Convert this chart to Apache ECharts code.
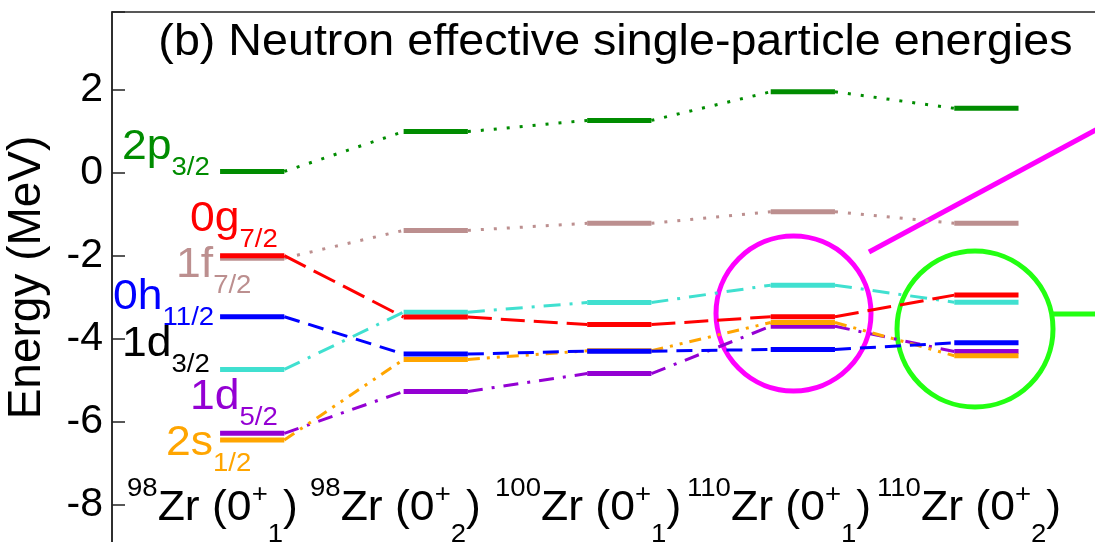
<!DOCTYPE html>
<html>
<head>
<meta charset="utf-8">
<script src="https://cdn.jsdelivr.net/npm/echarts@6/dist/echarts.min.js"></script>
<style>
  html, body { margin: 0; padding: 0; background: #fff; }
  #chart { width: 1095px; height: 542px; }
</style>
</head>
<body>
<div id="chart"></div>
<script>
// Nuclear states shown as columns, left to right
const stateMass  = ['98', '98', '100', '110', '110'];
const stateLevel = ['1', '2', '1', '1', '2'];

// Neutron effective single-particle energies (MeV), one value per state
const e2p32  = [ 0.03,  0.99,  1.26,  1.95,  1.55];
const e1f72  = [-2.06, -1.39, -1.22, -0.94, -1.22];
const e0g72  = [-2.00, -3.48, -3.66, -3.47, -2.95];
const e0h112 = [-3.47, -4.37, -4.30, -4.26, -4.10];
const e1d32  = [-4.74, -3.36, -3.13, -2.71, -3.12];
const e1d52  = [-6.28, -5.27, -4.84, -3.70, -4.31];
const e2s12  = [-6.44, -4.50, -4.29, -3.61, -4.41];

// Labelled energy ticks
const yTickLabels = [-8, -6, -4, -2, 0, 2];

const FONT = 'Liberation Sans';
const SX = 1.06;              // slight horizontal stretch of the lettering
const HALF_WIDTH = 0.175;     // half length of a level bar, in column units

// Orbitals in drawing order (later ones sit on top)
const orbitals = [
  { values: e1d52,  color: '#9400d3', dash: [15, 9, 3, 9] },
  { values: e2s12,  color: '#ffa500', dash: [12, 7, 3, 7, 3, 7] },
  { values: e1d32,  color: '#40e0d0', dash: [17, 9, 3, 9] },
  { values: e0h112, color: '#0000ff', dash: [16, 9] },
  { values: e1f72,  color: '#bc8f8f', dash: [3, 10] },
  { values: e0g72,  color: '#ff0000', dash: [24, 9] },
  { values: e2p32,  color: '#008c00', dash: [3, 10] }
];

function levelRenderer(values, color, dash) {
  return function (params, api) {
    const i = api.value(0);
    const p = api.coord([i, api.value(1)]);
    const hw = api.size([1, 0])[0] * HALF_WIDTH;
    const children = [];
    if (i < values.length - 1) {
      const q = api.coord([i + 1, values[i + 1]]);
      children.push({
        type: 'line',
        shape: { x1: p[0] + hw, y1: p[1], x2: q[0] - hw, y2: q[1] },
        style: { stroke: color, lineWidth: 3, lineDash: dash, fill: null }
      });
    }
    children.push({
      type: 'line',
      shape: { x1: p[0] - hw, y1: p[1], x2: p[0] + hw, y2: p[1] },
      style: { stroke: color, lineWidth: 5, fill: null }
    });
    return { type: 'group', children: children };
  };
}

const series = orbitals.map(o => ({
  type: 'custom',
  silent: true,
  animation: false,
  clip: false,
  renderItem: levelRenderer(o.values, o.color, o.dash),
  data: o.values.map((v, i) => [i, v])
}));

// Text measuring for composed labels with sub/superscripts
const measureCtx = document.createElement('canvas').getContext('2d');
function textWidth(text, size) {
  measureCtx.font = size + 'px "' + FONT + '"';
  return measureCtx.measureText(text).width;
}
const MAIN = 42, SMALL = 26;
function scripted(parts, x, y, color) {
  const out = [];
  let cx = x;
  parts.forEach(([text, small, dy]) => {
    const fs = small ? SMALL : MAIN;
    out.push({
      type: 'text', x: cx, y: y + dy, scaleX: SX, silent: true,
      style: { text: text, fill: color, fontSize: fs, fontFamily: FONT,
               align: 'left', verticalAlign: 'middle' }
    });
    cx += textWidth(text, fs) * SX;
  });
  return out;
}

const SUB = 21;
const orbitalLabels = [
  scripted([['2p', 0, 0], ['3/2', 1, SUB]], 122, 147, '#008c00'),
  scripted([['0g', 0, 0], ['7/2', 1, SUB]], 190, 219, '#ff0000'),
  scripted([['1f', 0, 0], ['7/2', 1, SUB]], 176, 265, '#bc8f8f'),
  scripted([['0h', 0, 0], ['11/2', 1, SUB]], 113, 297, '#0000ff'),
  scripted([['1d', 0, 0], ['3/2', 1, SUB]], 122, 344, '#000000'),
  scripted([['1d', 0, 0], ['5/2', 1, SUB]], 190, 397, '#9400d3'),
  scripted([['2s', 0, 0], ['1/2', 1, SUB]], 166, 443, '#ffa500')
].flat();

const stateLabelX = [127, 310, 495, 687, 877];
const stateLabels = stateMass.map((m, i) => scripted([
  [m, 1, -19.5], ['Zr (0', 0, 0], ['+', 1, -13], [stateLevel[i], 1, 27], [')', 0, 0]
], stateLabelX[i], 508, '#000')).flat();

const chart = echarts.init(document.getElementById('chart'), null, { renderer: 'canvas' });
chart.setOption({
  animation: false,
  backgroundColor: '#ffffff',
  grid: {
    left: 112, top: 12, width: 988, height: 575.7,
    outerBoundsMode: 'none', containLabel: false,
    show: true, borderColor: '#222', borderWidth: 1.5, backgroundColor: 'transparent'
  },
  xAxis: {
    type: 'value', min: -0.7638, max: 4.6189, show: false
  },
  yAxis: {
    type: 'value', min: -10, max: 3.872, interval: 2,
    axisLine: { show: true, onZero: false, lineStyle: { color: '#222', width: 1.5 } },
    axisTick: { show: true, inside: true, length: 13, lineStyle: { color: '#222', width: 1.5 } },
    splitLine: { show: false },
    axisLabel: {
      margin: 9, color: '#000', fontSize: 41, fontFamily: FONT,
      formatter: v => (yTickLabels.indexOf(v) >= 0 ? String(v) : '')
    }
  },
  series: series,
  graphic: [
    {
      type: 'text', x: 615.5, y: 43, scaleX: SX, silent: true,
      style: { text: '(b) Neutron effective single-particle energies', fill: '#000',
               fontSize: 44, fontFamily: FONT, align: 'center', verticalAlign: 'middle' }
    },
    {
      type: 'text', x: 27, y: 277.5, rotation: Math.PI / 2, silent: true,
      style: { text: 'Energy (MeV)', fill: '#000', fontSize: 46, fontFamily: FONT,
               align: 'center', verticalAlign: 'middle' }
    },
    ...orbitalLabels,
    ...stateLabels,
    // highlighted regions
    { type: 'circle', silent: true, shape: { cx: 793.5, cy: 313.5, r: 77.5 },
      style: { fill: null, stroke: '#ff00ff', lineWidth: 5 } },
    { type: 'line', silent: true, shape: { x1: 869, y1: 252, x2: 1120, y2: 117 },
      style: { stroke: '#ff00ff', lineWidth: 5 } },
    { type: 'circle', silent: true, shape: { cx: 975, cy: 329, r: 78 },
      style: { fill: null, stroke: '#22ff11', lineWidth: 5 } },
    { type: 'line', silent: true, shape: { x1: 1053, y1: 314, x2: 1110, y2: 314 },
      style: { stroke: '#22ff11', lineWidth: 5 } }
  ]
});
</script>
</body>
</html>
